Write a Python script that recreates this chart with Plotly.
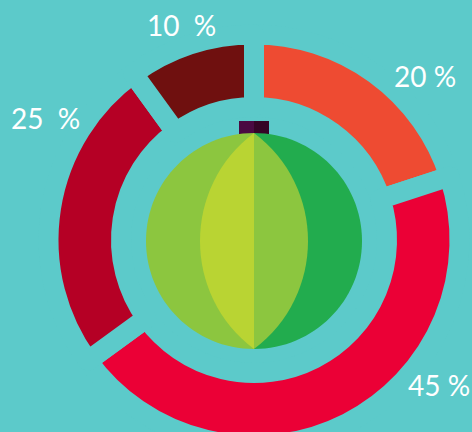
import plotly.graph_objects as go

categories = ["A", "B", "C", "D"]
values = [20, 45, 25, 10]
colors = ["#EE4B32", "#EB0036", "#B50025", "#6F100F"]
labels = ["20\u00a0%", "45\u00a0%", "25\u00a0\u00a0%", "10\u00a0\u00a0%"]
label_pos = [(425, 76), (439, 385), (45, 118), (181, 25)]

BG = "#5CCACA"
W, H = 472, 482
CX, CY, R_OUT, R_IN = 254, 240, 205.5, 133
MELON_CY = 241
GAP = 20

fig = go.Figure(go.Pie(
    labels=categories, values=values, sort=False, direction="clockwise", rotation=0,
    hole=R_IN / R_OUT, textinfo="none", hoverinfo="skip", showlegend=False,
    marker=dict(colors=colors, line=dict(color=BG, width=GAP)),
    domain=dict(x=[(CX - R_OUT) / W, (CX + R_OUT) / W], y=[(H - CY - R_OUT) / H, (H - CY + R_OUT) / H]),
))

r = 108
k = 0.5523 * r
def rect(x0, y0, x1, y1, c):
    return dict(type="rect", xref="x", yref="y", x0=x0, y0=y0, x1=x1, y1=y1,
                fillcolor=c, line_width=0, layer="above")
def path(d, c):
    return dict(type="path", xref="x", yref="y", path=d, fillcolor=c, line_width=0, layer="above")

top, bot = MELON_CY - r, MELON_CY + r
def half_disc(s):
    return (f"M{CX},{top} C{CX + s * k},{top} {CX + s * r},{MELON_CY - k} {CX + s * r},{MELON_CY} "
            f"C{CX + s * r},{MELON_CY + k} {CX + s * k},{bot} {CX},{bot} Z")
def half_lens(s):
    return f"M{CX},{top} C{CX + s * 72},{top + 54} {CX + s * 72},{bot - 54} {CX},{bot} Z"

shapes = [
    rect(239, 121, 254, 134, "#4A0A42"),
    rect(254, 121, 269, 134, "#350526"),
    path(half_disc(-1), "#8CC63F"),
    path(half_disc(1), "#22AC4E"),
    path(half_lens(-1), "#B9D433"),
    path(half_lens(1), "#8CC63F"),
]

annotations = [
    dict(x=x, y=y, xref="x", yref="y", text=t, showarrow=False,
         font=dict(family="Lato", size=28, color="white"))
    for t, (x, y) in zip(labels, label_pos)
]

fig.update_layout(
    width=W, height=H, margin=dict(l=0, r=0, t=0, b=0),
    paper_bgcolor=BG, plot_bgcolor=BG, showlegend=False,
    xaxis=dict(range=[0, W], visible=False, fixedrange=True),
    yaxis=dict(range=[H, 0], visible=False, fixedrange=True),
    shapes=shapes, annotations=annotations,
)
fig.write_html("out.html", config={"displayModeBar": False},
               post_script="document.documentElement.style.overflow='hidden';document.body.style.overflow='hidden';document.body.style.margin='0';")
